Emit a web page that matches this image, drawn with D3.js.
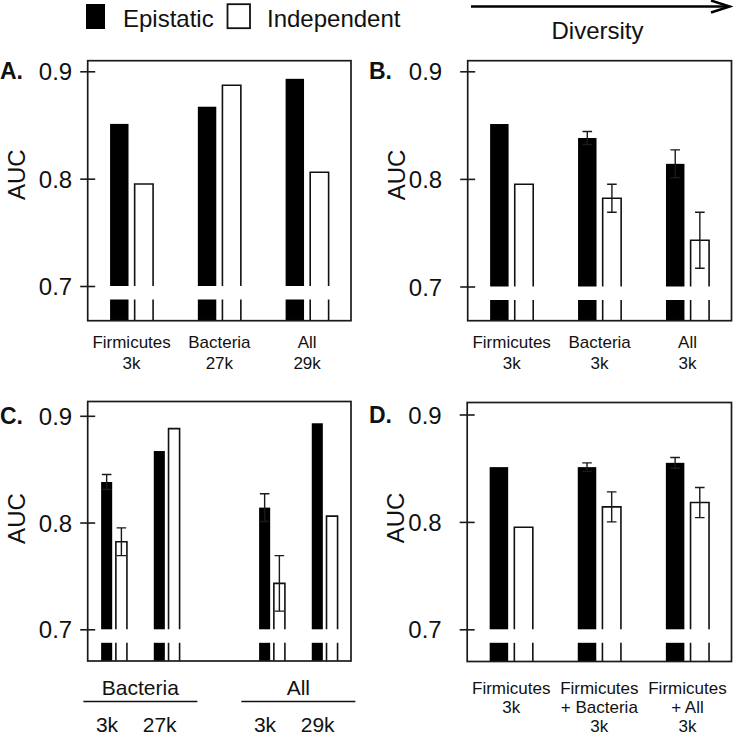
<!DOCTYPE html>
<html>
<head>
<meta charset="utf-8">
<script src="https://cdn.jsdelivr.net/npm/d3@7"></script>
<style>
  html, body { margin: 0; padding: 0; background: #fff; }
  svg { display: block; }
  text { font-family: "Liberation Sans", Arial, Helvetica, sans-serif; fill: #111; }
</style>
</head>
<body>
<svg id="chart" width="733" height="735"></svg>
<script>
// ---------------- DATA ----------------
const seriesNames = ["Epistatic", "Independent"];
const yTicks = [0.7, 0.8, 0.9];
const yTickLabels = ["0.7", "0.8", "0.9"];

// Panel A
const catsA = [["Firmicutes", "3k"], ["Bacteria", "27k"], ["All", "29k"]];
const epiA = [0.851, 0.867, 0.893];
const indA = [0.795, 0.887, 0.806];

// Panel B
const catsB = [["Firmicutes", "3k"], ["Bacteria", "3k"], ["All", "3k"]];
const epiB = [0.851, 0.838, 0.814];
const epiErrB = [0, 0.006, 0.013];
const indB = [0.795, 0.782, 0.743];
const indErrB = [0, 0.013, 0.026];

// Panel C (slot 3 is an empty spacer)
const slotsC = ["Bacteria 3k", "Bacteria 27k", "", "All 3k", "All 29k"];
const sizeLabelsC = ["3k", "27k", "", "3k", "29k"];
const groupsC = ["Bacteria", "All"];
const groupSlotsC = [[0, 1], [3, 4]];
const epiC = [0.838, 0.867, null, 0.814, 0.893];
const epiErrC = [0.007, 0, 0, 0.013, 0];
const indC = [0.782, 0.888, null, 0.743, 0.806];
const indErrC = [0.013, 0, 0, 0.026, 0];

// Panel D
const catsD = [["Firmicutes", "3k"], ["Firmicutes", "+ Bacteria", "3k"], ["Firmicutes", "+ All", "3k"]];
const epiD = [0.851, 0.851, 0.855];
const epiErrD = [0, 0.004, 0.005];
const indD = [0.795, 0.814, 0.818];
const indErrD = [0, 0.014, 0.014];

// ---------------- DRAWING ----------------
const svg = d3.select("#chart");
const FONT = '"Liberation Sans", Arial, Helvetica, sans-serif';

function panel(opts) {
  const { letter, left, right, top, bottom, y09, y07, labelGap, letterX,
          keys, epi, epiErr, ind, indErr } = opts;
  const g = svg.append("g");
  const x = d3.scaleBand().domain(keys).range([left, right]).padding(0);
  const y = d3.scaleLinear().domain([0.7, 0.9]).range([y07, y09]);
  const bw = x.bandwidth();
  const breakGap = 13.5;
  const lowTop = y(0.7) + breakGap;

  keys.forEach((k, i) => {
    if (epi[i] == null) return;
    const c = x(k) + bw / 2;
    const bx0 = c - 0.245 * bw, bx1 = c - 0.035 * bw;
    const wx0 = c + 0.035 * bw, wx1 = c + 0.245 * bw;
    // Epistatic: upper + lower segments
    g.append("rect").attr("x", bx0).attr("y", y(epi[i]))
      .attr("width", bx1 - bx0).attr("height", y(0.7) - y(epi[i])).attr("fill", "#000");
    g.append("rect").attr("x", bx0).attr("y", lowTop)
      .attr("width", bx1 - bx0).attr("height", bottom - lowTop).attr("fill", "#000");
    // Independent: open bar (no bottom line), lower segment as two lines
    const yt = y(ind[i]);
    g.append("path")
      .attr("d", `M${wx0},${y(0.7)}V${yt}H${wx1}V${y(0.7)}`)
      .attr("fill", "#fff").attr("stroke", "#111").attr("stroke-width", 1.6);
    [wx0, wx1].forEach(xx => {
      g.append("line").attr("x1", xx).attr("x2", xx).attr("y1", lowTop).attr("y2", bottom)
        .attr("stroke", "#111").attr("stroke-width", 1.6);
    });
    // error bars
    const errs = [[ (bx0 + bx1) / 2, epi[i], epiErr ? epiErr[i] : 0 ],
                  [ (wx0 + wx1) / 2, ind[i], indErr ? indErr[i] : 0 ]];
    errs.forEach(([cx, v, e]) => {
      if (!e) return;
      const cap = 4.8;
      g.append("path")
        .attr("d", `M${cx},${y(v + e)}V${y(v - e)}M${cx - cap},${y(v + e)}H${cx + cap}M${cx - cap},${y(v - e)}H${cx + cap}`)
        .attr("fill", "none").attr("stroke", "#1a1a1a").attr("stroke-width", 1.4);
    });
  });

  // box
  g.append("rect").attr("x", left).attr("y", top)
    .attr("width", right - left).attr("height", bottom - top)
    .attr("fill", "none").attr("stroke", "#1a1a1a").attr("stroke-width", 1.7);

  // y axis ticks (crossing the frame)
  const axis = d3.axisLeft(y).tickValues(yTicks)
    .tickFormat((d, i) => yTickLabels[i]).tickSize(15);
  const ax = g.append("g").attr("transform", `translate(${left},0)`).call(axis);
  ax.select(".domain").remove();
  ax.selectAll(".tick line").attr("x1", -7.5).attr("x2", 7.5)
    .attr("stroke", "#1a1a1a").attr("stroke-width", 1.6);
  ax.selectAll(".tick text").attr("x", -labelGap).attr("dy", "0.36em")
    .style("font-family", FONT).style("font-size", "24px").attr("fill", "#111");

  // AUC title
  g.append("text").attr("transform", `translate(${left - 63},${y(0.8) - 4}) rotate(-90)`)
    .attr("text-anchor", "middle").style("font-size", "24px").text("AUC");

  // panel letter
  g.append("text").attr("x", letterX).attr("y", y(0.9) + 8)
    .style("font-size", "23px").style("font-weight", "bold").text(letter);

  return { x, y, bw, g };
}

// Legend
svg.append("rect").attr("x", 86).attr("y", 4).attr("width", 19).attr("height", 25).attr("fill", "#000");
svg.append("text").attr("x", 123).attr("y", 27).style("font-size", "24px").text(seriesNames[0]);
svg.append("rect").attr("x", 227.5).attr("y", 4.2).attr("width", 22.5).attr("height", 24)
  .attr("fill", "#fff").attr("stroke", "#111").attr("stroke-width", 1.8);
svg.append("text").attr("x", 267).attr("y", 27).style("font-size", "24px").text(seriesNames[1]);

// Diversity arrow
svg.append("line").attr("x1", 471).attr("x2", 728).attr("y1", 6.5).attr("y2", 6.5)
  .attr("stroke", "#000").attr("stroke-width", 2.6);
svg.append("path").attr("d", "M711,0.5 L730,6.5 L711,12.5")
  .attr("fill", "none").attr("stroke", "#000").attr("stroke-width", 2.4).attr("stroke-linejoin", "miter");
svg.append("text").attr("x", 597.5).attr("y", 39).attr("text-anchor", "middle")
  .style("font-size", "24px").text("Diversity");

function catLabels(p, keys, cats, baseline, lh) {
  keys.forEach((k, i) => {
    const c = p.x(k) + p.bw / 2;
    const t = p.g.append("text").attr("text-anchor", "middle").style("font-size", "17px");
    cats[i].forEach((line, j) => {
      t.append("tspan").attr("x", c).attr("y", baseline + j * lh).text(line);
    });
  });
}

// Panel A
const keysA = catsA.map(d => d.join(" "));
const pA = panel({ letter: "A.", left: 87.7, right: 351, top: 60.7, bottom: 320.7, y09: 71.3, y07: 286,
  labelGap: 15.5, letterX: 0, keys: keysA, epi: epiA, epiErr: null, ind: indA, indErr: null });
catLabels(pA, keysA, catsA, 348, 21);

// Panel B
const keysB = catsB.map(d => d.join(" "));
const pB = panel({ letter: "B.", left: 467.7, right: 731.5, top: 60.7, bottom: 320.7, y09: 71.3, y07: 286.5,
  labelGap: 25.5, letterX: 369, keys: keysB, epi: epiB, epiErr: epiErrB, ind: indB, indErr: indErrB });
catLabels(pB, keysB, catsB, 348, 21);

// Panel C
const keysC = slotsC.map((d, i) => d || ("gap" + i));
const pC = panel({ letter: "C.", left: 87.7, right: 351, top: 401.5, bottom: 661, y09: 415.8, y07: 629.3,
  labelGap: 15.5, letterX: 0, keys: keysC, epi: epiC, epiErr: epiErrC, ind: indC, indErr: indErrC });
groupsC.forEach((name, gi) => {
  const s = groupSlotsC[gi];
  const c0 = pC.x(keysC[s[0]]) + pC.bw / 2, c1 = pC.x(keysC[s[1]]) + pC.bw / 2;
  const mid = (c0 + c1) / 2;
  pC.g.append("text").attr("x", mid).attr("y", 695).attr("text-anchor", "middle")
    .style("font-size", "21px").text(name);
  pC.g.append("line").attr("x1", mid - 57).attr("x2", mid + 57).attr("y1", 701.5).attr("y2", 701.5)
    .attr("stroke", "#111").attr("stroke-width", 1.5);
});
keysC.forEach((k, i) => {
  if (!sizeLabelsC[i]) return;
  pC.g.append("text").attr("x", pC.x(k) + pC.bw / 2 - 7).attr("y", 732).attr("text-anchor", "middle")
    .style("font-size", "21px").text(sizeLabelsC[i]);
});

// Panel D
const keysD = catsD.map(d => d.join(" "));
const pD = panel({ letter: "D.", left: 467.2, right: 731.5, top: 402.5, bottom: 661.5, y09: 414.5, y07: 629.3,
  labelGap: 25.5, letterX: 369, keys: keysD, epi: epiD, epiErr: epiErrD, ind: indD, indErr: indErrD });
catLabels(pD, keysD, catsD, 694, 19);
</script>
</body>
</html>
